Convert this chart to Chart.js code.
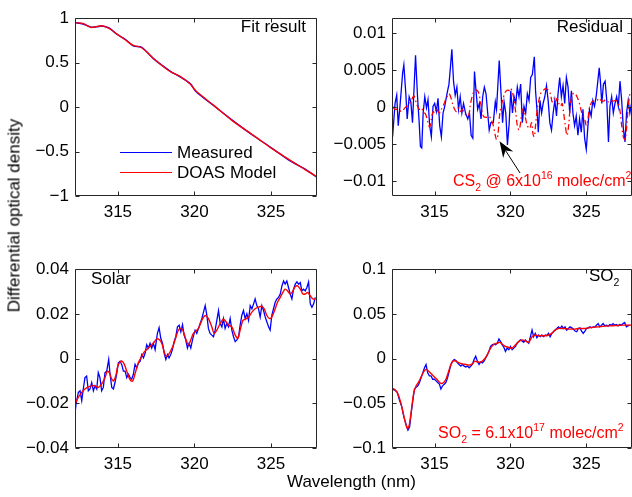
<!DOCTYPE html>
<html><head><meta charset="utf-8">
<script src="https://cdn.jsdelivr.net/npm/chart.js@4.4.0/dist/chart.umd.min.js"></script>
<style>
html,body{margin:0;padding:0;background:#fff;overflow:hidden;}
#wrap{position:relative;width:632px;height:497px;overflow:hidden;font-family:'Liberation Sans',Arial,Helvetica,sans-serif;color:#000;}
canvas{position:absolute;}
.t{position:absolute;font-size:17px;line-height:17px;white-space:nowrap;}
.a{position:absolute;font-size:16px;line-height:16px;white-space:nowrap;color:#ff0000;}
.sb{font-size:10.5px;position:relative;top:5px;}
.sp{font-size:10.5px;position:relative;top:-7px;}
.ln{position:absolute;height:0;width:52px;}
</style></head><body>
<div id="wrap">
<canvas id="cFit" width="316" height="224" style="left:5px;top:2px"></canvas>
<canvas id="cRes" width="310" height="224" style="left:322px;top:2px"></canvas>
<canvas id="cSol" width="316" height="225" style="left:5px;top:253px"></canvas>
<canvas id="cSO2" width="310" height="225" style="left:322px;top:253px"></canvas>

<div class="t" style="right:326px;top:18px">Fit result</div>
<div class="t" style="right:9px;top:18px">Residual</div>
<div class="t" style="left:91px;top:270px">Solar</div>
<div class="t" style="left:589px;top:267px">SO<span class="sb">2</span></div>

<div class="ln" style="left:120px;top:152px;border-top:1.3px solid #0000ff"></div>
<div class="t" style="left:177px;top:144px">Measured</div>
<div class="ln" style="left:120px;top:172px;border-top:1.3px solid #ff0000"></div>
<div class="t" style="left:177px;top:164px">DOAS Model</div>

<div class="a" style="left:453px;top:173px">CS<span class="sb">2</span> @ 6x10<span class="sp">16</span> molec/cm<span class="sp">2</span></div>
<div class="a" style="left:438px;top:425px">SO<span class="sb">2</span> = 6.1x10<span class="sp">17</span> molec/cm<span class="sp">2</span></div>

<div class="t" style="left:287px;top:473px">Wavelength (nm)</div>
<div class="t" style="left:-86px;top:207px;width:200px;text-align:center;transform:rotate(-90deg);transform-origin:100px 8.5px">Differential optical density</div>
</div>
<script>
// ---------- x axis (wavelength, nm) ----------
const wlMin = 312.2, wlMax = 328.0;
const xTickValues = [315, 320, 325];
const xTickLabels = ['315', '320', '325'];

// ---------- Fit result panel ----------
const fitWavelength = [312.2,312.72,313.23,313.6,313.95,314.42,314.93,315.5,316.0,316.56,317.32,318.41,319.06,319.72,320.1,321.22,322.53,323.83,325.0,326.25,327.2,328.0];
const fitModel      = [0.95,0.94,0.897,0.905,0.915,0.886,0.823,0.755,0.694,0.668,0.547,0.40,0.345,0.26,0.18,0.025,-0.16,-0.315,-0.459,-0.6,-0.70,-0.785];
const fitMeasured   = [0.95,0.935,0.9,0.903,0.912,0.89,0.82,0.76,0.69,0.672,0.545,0.405,0.34,0.265,0.175,0.02,-0.155,-0.32,-0.455,-0.605,-0.695,-0.79];
const fitTickValues = [-1, -0.5, 0, 0.5, 1];
const fitTickLabels = ['\u22121', '\u22120.5', '0', '0.5', '1'];

// ---------- Residual panel (values read in units of 1e-3) ----------
const resMeasuredWl = [312.24,312.40,312.51,312.61,312.72,312.90,312.98,313.11,313.20,313.33,313.44,313.55,313.75,313.88,313.99,314.07,314.16,314.25,314.36,314.47,314.57,314.68,314.79,314.90,315.01,315.12,315.23,315.34,315.45,315.56,315.66,315.82,315.95,316.06,316.14,316.25,316.36,316.47,316.58,316.69,316.80,316.91,317.04,317.19,317.30,317.41,317.52,317.63,317.73,317.84,317.95,318.06,318.17,318.28,318.39,318.50,318.60,318.71,318.87,319.00,319.08,319.26,319.39,319.48,319.58,319.69,319.80,319.91,
  320.02,320.13,320.24,320.35,320.45,320.56,320.67,320.78,320.89,321.00,321.11,321.22,321.33,321.44,321.57,321.65,321.76,321.83,321.94,322.05,322.15,322.26,322.37,322.48,322.59,322.70,322.81,322.92,323.03,323.13,323.24,323.35,323.46,323.57,323.68,323.79,323.90,324.01,324.11,324.22,324.33,324.44,324.55,324.66,324.77,324.88,324.99,325.10,325.20,325.31,325.42,325.53,325.64,325.75,325.84,325.92,326.01,326.12,326.23,326.34,326.45,326.55,326.66,326.77,326.88,326.99,327.10,327.21,327.32,327.43,327.54,327.64,327.75,327.86,327.97];
const resMeasuredMilli = [-4.0,0.5,1.6,-2.5,0,4.6,5.7,1.8,-1.6,1.4,0.7,-2.1,7.0,1.4,-2.1,-5.3,-5.5,-0.8,1.4,-0.1,1.0,-2.5,-4.0,0.1,0.5,-0.6,1.2,-2.5,-4.0,-0.8,0,1.8,3.1,5.7,7.8,3.5,1.6,2.7,-0.3,1.4,-0.8,0.5,-0.8,-1.6,-0.8,-3.8,-4.2,4.8,2.2,-0.3,0.5,-1.6,1.4,2.7,1.8,-0.8,-3.1,-2.1,-2.1,0.7,-0.3,6.3,1.4,-2.1,0.7,-0.8,-5.1,-2.3,
  2.2,-0.8,1.4,0.5,2.7,1.4,3.1,-2.1,0.1,-0.8,1.8,0.9,4.0,4.4,6.8,2.2,-0.8,-3.4,0.9,-0.8,0.5,1.4,2.9,0.9,-2.1,-3.1,-0.8,0.9,-1.2,1.8,4.0,1.4,2.9,0.5,4.0,2.7,-0.8,2.2,-0.8,-2.5,-1.2,-3.8,-1.6,-3.4,-0.3,-4.2,-5.7,-2.5,-0.3,-1.2,0.9,0.1,1.4,3.5,5.3,3.5,0.5,3.1,3.5,0.9,-4.7,0.1,1.4,-0.8,0.5,1.4,0.1,3.5,0.9,-2.9,-4.7,-0.8,0.9,-0.8,0.5];
const resCS2Wl = [312.24,312.40,312.61,312.83,313.05,313.27,313.42,313.64,313.81,313.99,314.14,314.25,314.42,314.57,314.68,314.79,314.90,315.01,315.12,315.23,315.34,315.45,315.60,315.77,315.95,316.06,316.21,316.32,316.43,316.58,316.69,316.82,316.97,317.12,317.25,317.34,317.47,317.63,317.78,317.91,318.06,318.21,318.39,318.56,318.71,318.87,319.00,319.08,319.17,319.30,319.48,319.65,319.80,319.96,
  320.02,320.13,320.24,320.35,320.45,320.56,320.67,320.78,320.89,321.00,321.11,321.26,321.39,321.48,321.57,321.65,321.76,321.87,321.98,322.13,322.31,322.48,322.63,322.74,322.85,322.96,323.07,323.18,323.29,323.40,323.50,323.61,323.72,323.83,323.94,324.05,324.16,324.27,324.38,324.48,324.59,324.70,324.88,324.99,325.10,325.20,325.36,325.53,325.68,325.84,325.97,326.12,326.27,326.45,326.62,326.77,326.93,327.10,327.23,327.32,327.43,327.54,327.64,327.75,327.86];
const resCS2Milli = [0.1,-0.3,-0.3,-0.6,-0.1,0.3,0.7,1.5,0.5,-0.3,-0.1,-0.6,-1.0,-2.1,-2.7,-1.6,-0.6,-0.8,-0.1,-0.6,-0.8,-0.3,0.3,1.2,1.8,1.4,0.3,-0.3,-0.6,-0.1,-0.6,-0.3,-0.8,-1.2,-1.2,0.1,1.4,2.2,2.3,1.9,0.3,-1.2,-1.4,-1.2,-1.6,-2.5,-3.8,-4.4,-3.8,-0.8,0.9,2.0,2.3,2.2,
  2.5,2.0,0.9,-0.8,-2.5,-3.1,-2.1,-0.3,-0.8,-1.6,-2.5,-2.9,-2.1,-3.6,-4.0,-2.5,-0.3,0.9,1.8,2.2,2.5,2.3,1.8,0.7,1.2,0.7,1.2,0.5,0.1,0.5,-0.8,-2.5,-3.8,-2.5,0.3,1.5,1.9,1.8,1.4,0.9,0.1,-0.8,-1.6,-2.5,-1.6,-0.1,0.7,0.9,0.9,1.2,0.9,0.8,1.0,0.7,0.9,0.8,0.9,0.5,-0.8,-2.5,-4.0,-4.4,-2.9,0.1,1.8];
const resTickValues = [-0.01, -0.005, 0, 0.005, 0.01];
const resTickLabels = ['\u22120.01', '\u22120.005', '0', '0.005', '0.01'];
const arrowTail = [320.63, -0.0089];
const arrowTip  = [319.28, -0.0046];

// ---------- Solar panel (values read in units of 1e-3) ----------
const solMeasuredWl = [312.20,312.27,312.42,312.53,312.64,312.74,312.85,312.96,313.07,313.18,313.29,313.40,313.51,313.62,313.72,313.83,313.94,314.05,314.16,314.27,314.40,314.49,314.60,314.71,314.81,314.92,315.03,315.14,315.25,315.36,315.47,315.58,315.69,315.80,315.90,316.01,316.12,316.23,316.34,316.45,316.56,316.67,316.78,316.88,316.99,317.10,317.21,317.32,317.43,317.58,317.69,317.80,317.91,318.02,318.13,318.24,318.34,318.45,318.56,318.67,318.78,318.89,319.00,319.11,319.22,319.32,319.43,319.54,319.65,319.76,319.87,319.98,
  320.04,320.15,320.26,320.37,320.48,320.59,320.70,320.81,320.91,321.02,321.13,321.24,321.35,321.46,321.57,321.68,321.79,321.89,322.00,322.11,322.22,322.33,322.44,322.55,322.66,322.77,322.88,322.98,323.09,323.20,323.31,323.42,323.53,323.64,323.75,323.86,323.96,324.07,324.18,324.29,324.40,324.51,324.62,324.73,324.84,324.94,325.05,325.16,325.27,325.38,325.49,325.60,325.71,325.82,325.92,326.03,326.14,326.25,326.36,326.47,326.58,326.69,326.80,326.91,327.01,327.12,327.23,327.34,327.45,327.56,327.67,327.78,327.89];
const solMeasuredMilli = [-24.6,-20.2,-15.1,-14.4,-18.8,-13.6,-8.5,-7.8,-14.4,-13.6,-10.7,-14.4,-12.2,-13.6,-6.3,-8.5,-14.4,-12.9,-6.3,-5.6,-0.4,-7.0,-12.9,-13.6,-10.7,-7.0,-1.9,-1.2,-2.6,-5.6,-5.6,-8.5,-7.0,-8.5,-9.2,-7.0,-2.6,-4.1,-1.9,-1.2,1.8,0.3,2.5,6.2,4.7,6.9,4.7,6.9,4.0,11.3,13.8,9.1,6.9,2.5,-0.4,1.8,0.3,1.8,4.0,7.6,9.8,14.2,14.9,12.0,15.2,10.5,8.4,4.7,6.9,4.7,8.4,11.3,
  12.7,11.3,13.5,15.7,17.9,20.8,23.7,19.3,13.5,11.3,10.5,9.8,12.7,17.1,21.5,15.7,14.2,17.9,13.5,15.7,14.2,17.9,12.7,9.8,7.6,8.4,9.8,14.9,19.3,21.5,17.9,20.1,17.1,23.7,22.3,24.5,26.7,23.7,22.3,18.6,23.7,21.5,18.6,16.4,14.2,12.7,19.3,22.3,25.2,26.7,27.4,28.9,32.5,34.7,33.3,34.7,31.8,28.9,26.7,31.1,33.3,34.3,33.3,34.0,30.3,31.1,30.3,31.8,34.3,24.5,23.0,24.5,27.4];
const solModelWl = [312.20,312.42,312.64,312.85,313.07,313.29,313.51,313.72,313.94,314.16,314.31,314.44,314.60,314.71,314.86,314.99,315.14,315.29,315.42,315.58,315.73,315.86,315.97,316.08,316.23,316.38,316.56,316.71,316.88,317.04,317.21,317.36,317.54,317.71,317.86,318.02,318.15,318.30,318.45,318.63,318.80,318.95,319.13,319.28,319.45,319.61,319.76,319.93,
  320.04,320.26,320.48,320.70,320.91,321.13,321.28,321.46,321.68,321.89,322.07,322.22,322.44,322.66,322.83,322.98,323.16,323.31,323.53,323.75,323.96,324.18,324.40,324.55,324.73,324.90,325.05,325.23,325.42,325.60,325.77,325.92,326.08,326.25,326.40,326.58,326.73,326.91,327.08,327.23,327.38,327.56,327.73,327.89];
const solModelMilli = [-20.2,-17.3,-15.1,-13.6,-12.6,-12.2,-12.2,-12.9,-11.4,-8.5,-5.6,-6.3,-9.2,-10.0,-7.8,-3.4,-1.5,-1.2,-2.6,-5.6,-8.5,-10.0,-10.0,-7.8,-4.1,-1.2,1.0,2.9,4.0,5.1,6.2,7.3,8.8,8.4,6.9,3.2,1.0,1.8,3.5,6.2,9.8,12.7,13.5,12.0,8.4,6.2,8.4,11.3,
  12.0,13.5,17.1,19.3,17.9,14.2,11.3,12.7,15.7,17.6,16.4,14.9,14.2,10.5,9.1,12.7,17.1,17.6,18.6,20.8,22.3,23.0,23.4,22.3,19.3,17.9,18.6,21.5,25.2,27.4,29.6,31.1,30.3,28.9,30.0,32.2,32.5,31.1,28.9,28.9,29.6,28.1,26.7,26.7];
const solTickValues = [-0.04, -0.02, 0, 0.02, 0.04];
const solTickLabels = ['\u22120.04', '\u22120.02', '0', '0.02', '0.04'];

// ---------- SO2 panel (values read in units of 1e-3) ----------
const so2MeasuredWl = [312.20,312.37,312.55,312.70,312.85,312.98,313.14,313.25,313.36,313.46,313.57,313.68,313.79,313.90,314.01,314.12,314.23,314.34,314.44,314.55,314.66,314.77,314.88,314.99,315.10,315.21,315.32,315.42,315.53,315.64,315.75,315.86,315.97,316.08,316.19,316.30,316.41,316.51,316.62,316.73,316.84,316.95,317.06,317.17,317.28,317.39,317.49,317.60,317.71,317.82,317.93,318.04,318.15,318.26,318.37,318.48,318.59,318.69,318.80,318.91,319.02,319.13,319.24,319.35,319.46,319.57,319.67,319.78,319.89,320.00,
  320.11,320.22,320.33,320.44,320.54,320.65,320.76,320.87,320.98,321.09,321.20,321.31,321.42,321.52,321.63,321.74,321.85,321.96,322.07,322.18,322.29,322.40,322.50,322.61,322.72,322.83,322.94,323.05,323.16,323.27,323.38,323.49,323.59,323.70,323.81,323.92,324.03,324.14,324.25,324.36,324.47,324.57,324.68,324.79,324.90,325.01,325.12,325.23,325.34,325.45,325.56,325.66,325.77,325.88,325.99,326.10,326.21,326.32,326.43,326.54,326.64,326.75,326.86,326.97,327.08,327.19,327.30,327.41,327.52,327.63,327.73,327.84];
const so2MeasuredMilli = [-34.1,-35.2,-37.7,-46.9,-54.2,-65.2,-74.4,-79.9,-76.2,-61.5,-46.9,-34.1,-32.2,-30.4,-26.7,-21.2,-15.8,-10.3,-6.6,-15.8,-19.4,-19.4,-23.1,-23.1,-24.9,-26.7,-28.6,-34.1,-30.4,-28.6,-26.7,-21.2,-13.9,-6.6,-2.9,-1.1,-2.2,-4.8,-6.6,-8.4,-6.6,-8.4,-9.5,-8.4,-10.3,-8.4,-6.6,-1.1,2.6,-2.9,-6.6,-3.7,-4.8,-2.9,0.7,4.4,8.8,13.6,15.4,16.1,15.4,17.2,22.0,19.0,15.4,12.5,8.1,11.7,9.9,13.6,
  9.9,11.7,13.6,17.2,19.0,20.9,19.8,18.3,20.9,19.0,17.2,24.5,31.9,24.5,28.2,23.4,26.4,24.5,26.4,24.5,26.4,25.6,28.2,24.5,28.2,30.0,31.9,33.7,35.5,33.7,36.3,33.7,35.5,31.9,33.7,35.5,34.4,33.0,30.8,30.0,33.7,34.4,30.8,28.2,30.8,33.7,34.4,35.5,34.4,35.5,35.5,37.4,39.2,35.5,37.4,39.2,36.6,37.4,36.3,38.1,37.4,39.2,37.4,38.1,36.6,38.1,37.4,39.2,40.3,35.5,36.6,37.4];
const so2ModelWl = [312.20,312.42,312.59,312.77,312.92,313.07,313.20,313.31,313.42,313.53,313.64,313.79,313.94,314.12,314.29,314.44,314.60,314.77,314.99,315.21,315.42,315.60,315.75,315.90,316.08,316.25,316.41,316.62,316.84,317.06,317.28,317.49,317.65,317.82,318.04,318.26,318.48,318.69,318.91,319.13,319.30,319.46,319.67,319.89,
  320.11,320.33,320.54,320.76,320.98,321.20,321.42,321.63,321.85,322.07,322.29,322.50,322.72,322.94,323.16,323.38,323.59,323.81,324.03,324.25,324.47,324.68,324.90,325.12,325.34,325.56,325.77,325.99,326.21,326.43,326.64,326.86,327.08,327.30,327.52,327.73,327.95];
const so2ModelMilli = [-33.0,-35.2,-39.6,-48.7,-59.7,-70.7,-78.0,-76.2,-65.2,-50.5,-37.7,-30.4,-26.7,-20.5,-14.7,-12.1,-13.9,-16.8,-20.5,-24.2,-27.8,-26.7,-23.1,-15.8,-6.6,-2.2,-2.9,-4.8,-5.9,-6.6,-7.3,-5.9,-2.9,-3.7,-4.0,-1.1,4.4,11.7,16.1,17.2,18.3,16.1,13.6,12.5,
  11.7,15.4,19.0,20.9,19.8,18.3,24.5,26.4,25.6,25.6,25.6,26.4,28.2,31.9,33.7,33.7,33.7,33.0,33.0,33.0,33.7,33.7,33.7,34.4,34.8,35.2,35.5,35.9,36.3,36.6,36.6,37.0,37.0,37.4,37.4,37.4,37.4];
const so2TickValues = [-0.1, -0.05, 0, 0.05, 0.1];
const so2TickLabels = ['\u22120.1', '\u22120.05', '0', '0.05', '0.1'];

// ---------- helpers ----------
const BLUE = '#0000ff', RED = '#ff0000';
Chart.defaults.font.family = "'Liberation Sans', Arial, Helvetica, sans-serif";
Chart.defaults.font.size = 17;
Chart.defaults.color = '#000';

function points(xs, ys, unit) {
  return xs.map((x, i) => ({ x: x, y: ys[i] * unit }));
}

const framePlugin = {
  id: 'frame',
  afterDatasetsDraw(chart) {
    const { ctx, chartArea: a, scales: { x, y } } = chart;
    const L = Math.round(a.left) + 0.5, R = Math.round(a.right) - 0.5;
    const T = Math.round(a.top) + 0.5, B = Math.round(a.bottom) - 0.5;
    ctx.save();
    ctx.strokeStyle = '#262626';
    ctx.lineWidth = 1;
    ctx.beginPath();
    ctx.rect(L, T, R - L, B - T);
    x.ticks.forEach(t => {
      const p = Math.round(x.getPixelForValue(t.value)) + 0.5;
      ctx.moveTo(p, B); ctx.lineTo(p, B - 4);
      ctx.moveTo(p, T); ctx.lineTo(p, T + 4);
    });
    y.ticks.forEach(t => {
      const p = Math.round(y.getPixelForValue(t.value)) + 0.5;
      ctx.moveTo(L, p); ctx.lineTo(L + 4, p);
      ctx.moveTo(R, p); ctx.lineTo(R - 4, p);
    });
    ctx.stroke();
    ctx.restore();
  }
};

const arrowPlugin = {
  id: 'arrow',
  afterDatasetsDraw(chart) {
    const { ctx, scales: { x, y } } = chart;
    const x0 = x.getPixelForValue(arrowTail[0]), y0 = y.getPixelForValue(arrowTail[1]);
    const x1 = x.getPixelForValue(arrowTip[0]), y1 = y.getPixelForValue(arrowTip[1]);
    const ang = Math.atan2(y1 - y0, x1 - x0);
    const c = Math.cos(ang), s = Math.sin(ang);
    const len = 16, half = 6, notch = 11;
    const bx = x1 - c * len, by = y1 - s * len;
    const nx = x1 - c * notch, ny = y1 - s * notch;
    ctx.save();
    ctx.strokeStyle = '#000'; ctx.fillStyle = '#000'; ctx.lineWidth = 1;
    ctx.beginPath(); ctx.moveTo(x0, y0); ctx.lineTo(nx, ny); ctx.stroke();
    ctx.beginPath();
    ctx.moveTo(x1, y1);
    ctx.lineTo(bx - s * half, by + c * half);
    ctx.lineTo(nx, ny);
    ctx.lineTo(bx + s * half, by - c * half);
    ctx.closePath(); ctx.fill();
    ctx.restore();
  }
};

function makePanel(id, datasets, yMin, yMax, yTickValues, yTickLabels, padRight, extra) {
  return new Chart(document.getElementById(id), {
    type: 'line',
    data: { datasets: datasets },
    options: {
      responsive: false, animation: false, devicePixelRatio: 1,
      layout: { padding: { top: 12, right: padRight, left: 0, bottom: 0 } },
      plugins: { legend: { display: false }, tooltip: { enabled: false } },
      elements: { point: { radius: 0 } },
      scales: {
        x: {
          type: 'linear', min: wlMin, max: wlMax,
          grid: { display: false, drawTicks: false }, border: { display: false },
          afterBuildTicks(s) { s.ticks = xTickValues.map(v => ({ value: v })); },
          afterFit(s) { s.height = 30; },
          ticks: { padding: 6, maxRotation: 0, autoSkip: false, color: '#000',
                   callback: (v, i) => xTickLabels[i] }
        },
        y: {
          type: 'linear', min: yMin, max: yMax,
          grid: { display: false, drawTicks: false }, border: { display: false },
          afterBuildTicks(s) { s.ticks = yTickValues.map(v => ({ value: v })); },
          afterFit(s) { s.width = 70; },
          ticks: { padding: 6, autoSkip: false, color: '#000',
                   callback: (v, i) => yTickLabels[i] }
        }
      }
    },
    plugins: [framePlugin].concat(extra || [])
  });
}

makePanel('cFit', [
  { data: points(fitWavelength, fitModel, 1), borderColor: RED, borderWidth: 1.4, tension: 0.3, order: 0 },
  { data: points(fitWavelength, fitMeasured, 1), borderColor: BLUE, borderWidth: 1.4, tension: 0.3, order: 1 }
], -1, 1, fitTickValues, fitTickLabels, 4);

makePanel('cRes', [
  { data: points(resCS2Wl, resCS2Milli, 0.001), borderColor: RED, borderWidth: 1.3, tension: 0.3, borderDash: [6, 3, 1.5, 3], order: 0 },
  { data: points(resMeasuredWl, resMeasuredMilli, 0.001), borderColor: BLUE, borderWidth: 1.3, tension: 0, order: 1 }
], -0.012, 0.012, resTickValues, resTickLabels, 0, [arrowPlugin]);

makePanel('cSol', [
  { data: points(solModelWl, solModelMilli, 0.001), borderColor: RED, borderWidth: 1.4, tension: 0.3, order: 0 },
  { data: points(solMeasuredWl, solMeasuredMilli, 0.001), borderColor: BLUE, borderWidth: 1.3, tension: 0, order: 1 }
], -0.04, 0.04, solTickValues, solTickLabels, 4);

makePanel('cSO2', [
  { data: points(so2ModelWl, so2ModelMilli, 0.001), borderColor: RED, borderWidth: 1.4, tension: 0.3, order: 0 },
  { data: points(so2MeasuredWl, so2MeasuredMilli, 0.001), borderColor: BLUE, borderWidth: 1.3, tension: 0, order: 1 }
], -0.1, 0.1, so2TickValues, so2TickLabels, 0);
</script>
</body></html>
